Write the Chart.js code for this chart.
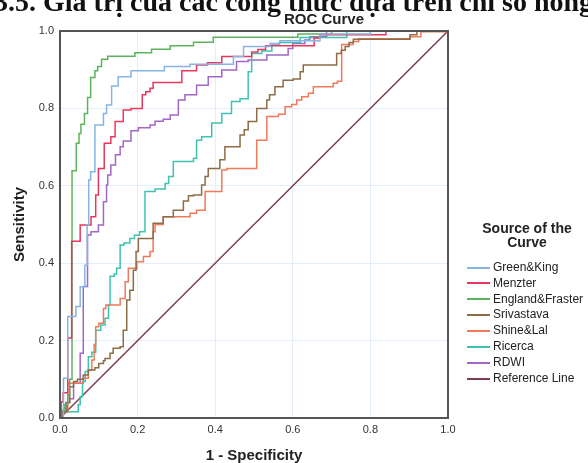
<!DOCTYPE html>
<html>
<head>
<meta charset="utf-8">
<script src="https://cdn.jsdelivr.net/npm/chart.js@4.4.1/dist/chart.umd.min.js"></script>
<style>
    body { margin: 0; background: #fff; }
    #wrap { position: relative; width: 588px; height: 463px; overflow: hidden; font-family: "Liberation Sans", Arial, sans-serif; color: #222; }
    #heading { position: absolute; left: -6px; top: -12px; font: bold 28px/28px "Liberation Serif", serif; white-space: nowrap; color: #111; z-index: 2; }
    #roc-title { position: absolute; left: 224px; width: 200px; top: 10px; text-align: center; font-weight: bold; font-size: 15px; line-height: 18px; }
    #legend-title { position: absolute; left: 467px; width: 120px; top: 221px; text-align: center; font-weight: bold; font-size: 14px; line-height: 14px; }
    .legend-row { position: absolute; left: 467px; height: 16px; font-size: 12px; line-height: 16px; white-space: nowrap; }
    .legend-line { display: inline-block; width: 23px; height: 2px; vertical-align: middle; margin-right: 3px; }
    canvas { position: absolute; left: 0; top: 0; }
</style>
</head>
<body>
<div id="wrap">
    <canvas id="roc-chart" width="588" height="463"></canvas>
    <div id="heading">3.5. Giá trị của các công thức dựa trên chỉ số hồng cầu</div>
    <div id="roc-title">ROC Curve</div>
    <div id="legend-title">Source of the<br>Curve</div>
    <div id="legend"></div>
</div>
<script>
// values: x = 1 - specificity, y = sensitivity (curve rises at each x)
const seriesNames = ["Green&King", "Menzter", "England&Fraster", "Srivastava", "Shine&Lal", "Ricerca", "RDWI", "Reference Line"]
const seriesColors = ['#86b5e4', '#e8375e', '#5db35d', '#8c6d46', '#f07a5a', '#3fc3b0', '#a067c4', '#7d3c4e']
const tickLabels = ['0.0', '0.2', '0.4', '0.6', '0.8', '1.0']

const greenKingX = [0, 0.009, 0.020, 0.041, 0.052, 0.064, 0.070, 0.074, 0.079, 0.090, 0.112, 0.120, 0.133, 0.150, 0.183, 0.269, 0.335, 0.447, 0.473, 0.541, 0.567, 0.670, 0.800, 1]
const greenKingY = [0, 0.103, 0.262, 0.288, 0.339, 0.395, 0.499, 0.615, 0.636, 0.757, 0.787, 0.809, 0.858, 0.882, 0.897, 0.908, 0.914, 0.934, 0.960, 0.968, 0.975, 0.992, 1.0, 1]

const menzterX = [0, 0.003, 0.008, 0.020, 0.030, 0.052, 0.080, 0.092, 0.099, 0.114, 0.131, 0.142, 0.163, 0.183, 0.212, 0.221, 0.232, 0.240, 0.314, 0.352, 0.380, 0.417, 0.494, 0.510, 0.530, 0.655, 0.670, 0.840, 1]
const menzterY = [0, 0.042, 0.065, 0.207, 0.457, 0.499, 0.520, 0.576, 0.645, 0.710, 0.727, 0.766, 0.796, 0.800, 0.835, 0.843, 0.852, 0.867, 0.897, 0.912, 0.918, 0.934, 0.946, 0.952, 0.962, 0.982, 0.990, 1.0, 1]

const englandX = [0, 0.003, 0.012, 0.020, 0.025, 0.031, 0.042, 0.049, 0.054, 0.063, 0.071, 0.079, 0.090, 0.097, 0.107, 0.123, 0.193, 0.236, 0.284, 0.344, 0.395, 0.613, 0.700, 1]
const englandY = [0, 0.020, 0.035, 0.060, 0.100, 0.639, 0.710, 0.735, 0.759, 0.787, 0.828, 0.880, 0.897, 0.908, 0.927, 0.935, 0.944, 0.953, 0.962, 0.971, 0.984, 0.992, 1.0, 1]

const srivastavaX = [0, 0.005, 0.018, 0.025, 0.035, 0.045, 0.060, 0.073, 0.090, 0.100, 0.112, 0.116, 0.129, 0.137, 0.155, 0.163, 0.172, 0.180, 0.189, 0.196, 0.202, 0.240, 0.266, 0.292, 0.318, 0.331, 0.344, 0.365, 0.374, 0.382, 0.412, 0.425, 0.464, 0.475, 0.485, 0.507, 0.533, 0.540, 0.554, 0.575, 0.601, 0.619, 0.627, 0.713, 0.725, 0.735, 0.745, 0.756, 0.902, 0.920, 1]
const srivastavaY = [0, 0.016, 0.040, 0.081, 0.094, 0.100, 0.111, 0.124, 0.130, 0.141, 0.148, 0.154, 0.167, 0.180, 0.184, 0.227, 0.305, 0.330, 0.382, 0.430, 0.464, 0.503, 0.520, 0.537, 0.561, 0.574, 0.576, 0.602, 0.624, 0.645, 0.667, 0.701, 0.731, 0.745, 0.766, 0.800, 0.822, 0.835, 0.856, 0.873, 0.876, 0.895, 0.912, 0.942, 0.950, 0.960, 0.970, 0.979, 0.990, 1.0, 1]

const shineLalX = [0, 0.005, 0.020, 0.060, 0.073, 0.082, 0.088, 0.092, 0.100, 0.112, 0.118, 0.155, 0.168, 0.176, 0.198, 0.215, 0.232, 0.240, 0.245, 0.266, 0.335, 0.352, 0.374, 0.417, 0.430, 0.507, 0.533, 0.563, 0.580, 0.597, 0.610, 0.623, 0.640, 0.653, 0.704, 0.715, 0.726, 0.756, 0.770, 0.902, 0.930, 1]
const shineLalY = [0, 0.016, 0.090, 0.103, 0.124, 0.150, 0.190, 0.236, 0.245, 0.283, 0.292, 0.309, 0.352, 0.387, 0.404, 0.417, 0.430, 0.481, 0.500, 0.520, 0.529, 0.537, 0.585, 0.641, 0.645, 0.718, 0.779, 0.785, 0.804, 0.810, 0.822, 0.830, 0.839, 0.856, 0.865, 0.870, 0.965, 0.973, 0.980, 0.985, 0.998, 1]

const ricercaX = [0, 0.005, 0.047, 0.052, 0.058, 0.065, 0.073, 0.082, 0.092, 0.105, 0.116, 0.125, 0.129, 0.140, 0.146, 0.155, 0.165, 0.180, 0.192, 0.205, 0.219, 0.245, 0.271, 0.280, 0.292, 0.344, 0.352, 0.365, 0.391, 0.417, 0.442, 0.464, 0.485, 0.494, 0.520, 0.546, 0.565, 0.619, 0.739, 1]
const ricercaY = [0, 0.016, 0.034, 0.055, 0.094, 0.120, 0.158, 0.170, 0.227, 0.240, 0.258, 0.292, 0.366, 0.372, 0.387, 0.447, 0.452, 0.464, 0.472, 0.481, 0.585, 0.592, 0.606, 0.624, 0.663, 0.671, 0.718, 0.727, 0.762, 0.787, 0.818, 0.825, 0.895, 0.942, 0.948, 0.964, 0.970, 0.983, 1.0, 1]

const rdwiX = [0, 0.005, 0.015, 0.025, 0.035, 0.052, 0.060, 0.071, 0.080, 0.099, 0.112, 0.120, 0.123, 0.131, 0.143, 0.155, 0.163, 0.183, 0.202, 0.232, 0.245, 0.266, 0.284, 0.305, 0.322, 0.352, 0.382, 0.417, 0.455, 0.485, 0.533, 0.588, 0.600, 0.631, 0.644, 0.687, 1]
const rdwiY = [0, 0.020, 0.040, 0.050, 0.090, 0.167, 0.340, 0.473, 0.481, 0.499, 0.559, 0.602, 0.628, 0.654, 0.680, 0.701, 0.716, 0.742, 0.750, 0.757, 0.767, 0.772, 0.783, 0.822, 0.835, 0.860, 0.882, 0.899, 0.921, 0.925, 0.938, 0.955, 0.968, 0.977, 0.985, 1.0, 1]

const referenceX = [0, 1]
const referenceY = [0, 1]

const seriesX = [greenKingX, menzterX, englandX, srivastavaX, shineLalX, ricercaX, rdwiX, referenceX]
const seriesY = [greenKingY, menzterY, englandY, srivastavaY, shineLalY, ricercaY, rdwiY, referenceY]

function toPoints(xs, ys) {
    return xs.map((x, i) => ({ x: x, y: ys[i] }))
}

// legend, same order as the chart's series
seriesNames.map((name, i) => {
    let top = 258.7 + 15.9 * i
    document.getElementById('legend').insertAdjacentHTML('beforeend',
        `<div class="legend-row" style="top:${top}px"><span class="legend-line" style="background:${seriesColors[i]}"></span>${name}</div>`)
})

const framePlugin = {
    id: 'frame',
    afterDatasetsDraw(chart) {
        const { ctx, chartArea } = chart
        ctx.save()
        ctx.strokeStyle = '#555'
        ctx.lineWidth = 2
        ctx.strokeRect(chartArea.left, chartArea.top, chartArea.right - chartArea.left, chartArea.bottom - chartArea.top)
        ctx.restore()
    }
}

Chart.defaults.font.family = '"Liberation Sans", Arial, sans-serif'

new Chart(document.getElementById('roc-chart').getContext('2d'), {
    type: 'scatter',
    data: {
        datasets: seriesNames.map((name, i) => ({
            label: name,
            data: toPoints(seriesX[i], seriesY[i]),
            showLine: true,
            stepped: name == "Reference Line" ? false : 'before',
            borderColor: seriesColors[i],
            borderWidth: 1.5,
            pointRadius: 0,
            fill: false
        }))
    },
    options: {
        responsive: false,
        animation: false,
        layout: { padding: { top: 31, right: 140, left: 0, bottom: 0 } },
        plugins: {
            legend: { display: false },
            tooltip: { enabled: false }
        },
        scales: {
            x: {
                type: 'linear',
                min: 0,
                max: 1,
                ticks: {
                    stepSize: 0.2,
                    padding: 5,
                    maxRotation: 0,
                    color: '#333',
                    font: { size: 11 },
                    callback: (value, index) => tickLabels[index]
                },
                grid: { color: '#e4eef8', drawTicks: false },
                border: { display: false },
                title: { display: true, text: '1 - Specificity', color: '#222', font: { size: 15, weight: 'bold', lineHeight: 1 }, padding: { top: 0, bottom: 0 } },
                afterFit: (scale) => {
                    scale.height = 45
                    scale.paddingLeft = 0
                    scale.paddingRight = 0
                }
            },
            y: {
                type: 'linear',
                min: 0,
                max: 1,
                ticks: {
                    stepSize: 0.2,
                    padding: 6,
                    color: '#333',
                    font: { size: 11 },
                    callback: (value, index) => tickLabels[index]
                },
                grid: { color: '#e4eef8', drawTicks: false },
                border: { display: false },
                title: { display: true, text: 'Sensitivity', color: '#222', font: { size: 15, weight: 'bold', lineHeight: 1 }, padding: { top: 12, bottom: 0 } },
                afterFit: (scale) => {
                    scale.width = 60
                    scale.paddingTop = 0
                    scale.paddingBottom = 0
                }
            }
        }
    },
    plugins: [framePlugin]
})
</script>
</body>
</html>
